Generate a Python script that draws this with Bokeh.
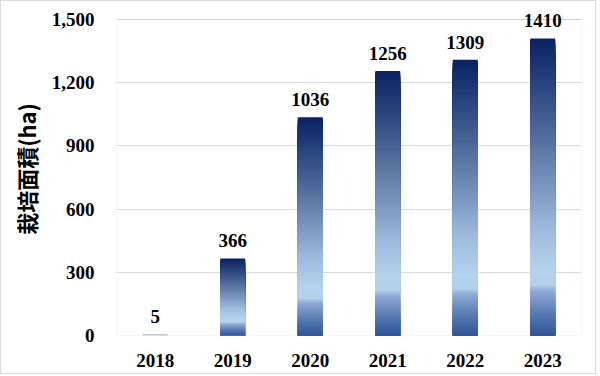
from bokeh.plotting import figure
from bokeh.models import (FactorRange, Range1d, NumeralTickFormatter, FixedTicker,
                          ColumnDataSource, LabelSet, BoxAnnotation, Title)
from bokeh.embed import file_html
from bokeh.resources import INLINE

# ---- data ----
years = ["2018", "2019", "2020", "2021", "2022", "2023"]
areas = [5, 366, 1036, 1256, 1309, 1410]
y_ticks = [0, 300, 600, 900, 1200, 1500]
y_title = "栽培面積(ha)"

# gradient stops (fraction of bar height from bottom, colour)
stops = [
    (0.00, "#2f5597"), (0.08, "#5d7db5"), (0.15, "#90abd6"), (0.17, "#b4d0eb"),
    (0.22, "#b4d3ed"), (0.35, "#a0bcdd"), (0.50, "#7a96c0"), (0.65, "#56729f"),
    (0.80, "#334f86"), (1.00, "#0a2262"),
]


def hex2rgb(h):
    h = h.lstrip("#")
    return tuple(int(h[i:i + 2], 16) for i in (0, 2, 4))


def grad(f):
    for (f0, c0), (f1, c1) in zip(stops[:-1], stops[1:]):
        if f0 <= f <= f1:
            t = 0 if f1 == f0 else (f - f0) / (f1 - f0)
            a, b = hex2rgb(c0), hex2rgb(c1)
            return "#%02x%02x%02x" % tuple(round(a[k] + (b[k] - a[k]) * t) for k in range(3))
    return stops[-1][1]


Y_MAX = 1500
AX_TOP_PX, AX_BOT_PX, FIG_TOP_PX = 18, 334, 1
PX_PER_UNIT = (AX_BOT_PX - AX_TOP_PX) / Y_MAX
Y_END = (AX_BOT_PX - FIG_TOP_PX) / PX_PER_UNIT  # headroom so value labels are not clipped

# each slice runs from 0 up to its own top; drawn tallest first so that the
# shorter ones paint over it -> continuous gradient without seams
xs, tops, cols = [], [], []
for yr, v in zip(years, areas):
    n = max(1, int(round(v * PX_PER_UNIT)))  # ~1px per slice
    for i in range(n - 1, -1, -1):
        xs.append(yr)
        tops.append(v * (i + 1) / n)
        cols.append(grad((i + 0.5) / n))
src = ColumnDataSource(dict(x=xs, top=tops, color=cols))

p = figure(
    x_range=FactorRange(*years, range_padding=0),
    y_range=Range1d(0, Y_END),
    width=596, height=374,
    min_border_left=110, min_border_right=16, min_border_top=FIG_TOP_PX,
    min_border_bottom=40,
    output_backend="svg", toolbar_location=None,
)
p.styles = {"border": "1px solid #d9d9d9"}
p.outline_line_color = None
p.xgrid.grid_line_color = None
p.ygrid.grid_line_color = "#d9d9d9"
p.ygrid.ticker = FixedTicker(ticks=y_ticks)

# plot-area border (0 .. 1500)
p.add_layout(BoxAnnotation(bottom=0, top=Y_MAX, fill_alpha=0, line_color="#bfbfbf",
                           line_width=1, level="underlay"))

p.vbar(x="x", bottom=0, top="top", width=0.32, fill_color="color",
       line_color=None, source=src)

lab_src = ColumnDataSource(dict(x=years, y=areas, t=[str(a) for a in areas]))
p.add_layout(LabelSet(x="x", y="y", text="t", source=lab_src, y_offset=11,
                      text_align="center", text_baseline="bottom",
                      text_font="Liberation Serif", text_font_style="bold",
                      text_font_size="19px", text_color="#000000"))

p.yaxis.ticker = FixedTicker(ticks=y_ticks)
p.yaxis.formatter = NumeralTickFormatter(format="0,0")
for ax in (p.xaxis, p.yaxis):
    ax.axis_line_color = None
    ax.major_tick_line_color = None
    ax.minor_tick_line_color = None
    ax.major_tick_out = 0
    ax.major_tick_in = 0
    ax.major_label_text_font = "Liberation Serif"
    ax.major_label_text_font_style = "bold"
    ax.major_label_text_font_size = "19px"
    ax.major_label_text_color = "#000000"
p.yaxis.major_label_standoff = 22
p.xaxis.major_label_standoff = 18

p.add_layout(Title(text=y_title, align="center", offset=-9, standoff=13,
                   text_font="Noto Sans CJK JP", text_font_style="bold",
                   text_font_size="22px", text_color="#000000"), "left")

open("out.html", "w").write(file_html(p, INLINE))
